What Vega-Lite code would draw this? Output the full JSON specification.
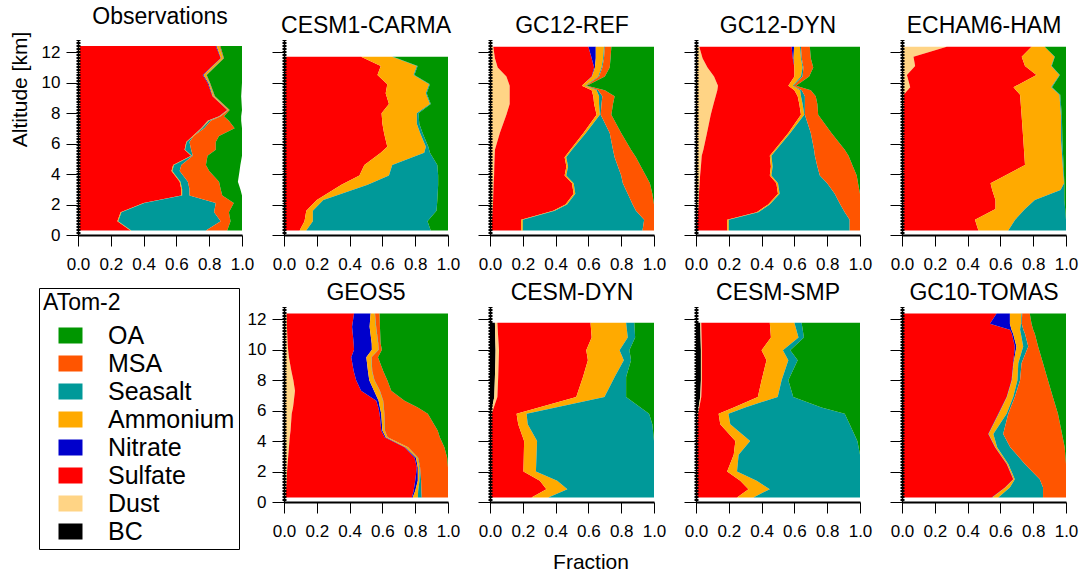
{
"$schema": "https://vega.github.io/schema/vega-lite/v6.json",
"autosize": {"type": "pad"},
"padding": {"left": 9, "top": 6, "right": 5, "bottom": 5},
"background": "white",
"data": {"name": "d"},
"datasets": {
"ord": [{"sp":"BC","o":1},{"sp":"Dust","o":2},{"sp":"Sulfate","o":3},{"sp":"Nitrate","o":4},{"sp":"Ammonium","o":5},{"sp":"Seasalt","o":6},{"sp":"MSA","o":7},{"sp":"OA","o":8}],
"d": [
{"m":"Observations","alt":12.4,"BC":0,"Dust":0.012,"Sulfate":0.828,"Nitrate":0.005,"Ammonium":0.015,"Seasalt":0.002,"MSA":0.006,"OA":0.132},
{"m":"Observations","alt":11.6,"BC":0,"Dust":0.012,"Sulfate":0.858,"Nitrate":0.002,"Ammonium":0.013,"Seasalt":0.002,"MSA":0.003,"OA":0.11},
{"m":"Observations","alt":10.5,"BC":0,"Dust":0.01,"Sulfate":0.75,"Nitrate":0.005,"Ammonium":0.015,"Seasalt":0.002,"MSA":0.003,"OA":0.215},
{"m":"Observations","alt":10.0,"BC":0,"Dust":0.01,"Sulfate":0.78,"Nitrate":0.005,"Ammonium":0.005,"Seasalt":0.002,"MSA":0.003,"OA":0.195},
{"m":"Observations","alt":9.1,"BC":0,"Dust":0.01,"Sulfate":0.81,"Nitrate":0.002,"Ammonium":0.008,"Seasalt":0.002,"MSA":0.003,"OA":0.16},
{"m":"Observations","alt":8.2,"BC":0,"Dust":0.01,"Sulfate":0.9,"Nitrate":0.002,"Ammonium":0.006,"Seasalt":0.002,"MSA":0.005,"OA":0.075},
{"m":"Observations","alt":7.8,"BC":0,"Dust":0.01,"Sulfate":0.85,"Nitrate":0.002,"Ammonium":0.006,"Seasalt":0.002,"MSA":0.02,"OA":0.105},
{"m":"Observations","alt":7.5,"BC":0,"Dust":0.01,"Sulfate":0.78,"Nitrate":0.002,"Ammonium":0.008,"Seasalt":0.01,"MSA":0.11,"OA":0.075},
{"m":"Observations","alt":7.0,"BC":0,"Dust":0.01,"Sulfate":0.74,"Nitrate":0.002,"Ammonium":0.006,"Seasalt":0.012,"MSA":0.185,"OA":0.045},
{"m":"Observations","alt":6.5,"BC":0,"Dust":0.01,"Sulfate":0.69,"Nitrate":0,"Ammonium":0.005,"Seasalt":0,"MSA":0.155,"OA":0.14},
{"m":"Observations","alt":6.1,"BC":0,"Dust":0.01,"Sulfate":0.65,"Nitrate":0,"Ammonium":0.003,"Seasalt":0.017,"MSA":0.16,"OA":0.16},
{"m":"Observations","alt":5.6,"BC":0,"Dust":0.01,"Sulfate":0.64,"Nitrate":0,"Ammonium":0.003,"Seasalt":0.037,"MSA":0.15,"OA":0.16},
{"m":"Observations","alt":5.2,"BC":0,"Dust":0.01,"Sulfate":0.68,"Nitrate":0,"Ammonium":0.005,"Seasalt":0.005,"MSA":0.09,"OA":0.21},
{"m":"Observations","alt":4.6,"BC":0,"Dust":0.01,"Sulfate":0.57,"Nitrate":0,"Ammonium":0.005,"Seasalt":0.045,"MSA":0.15,"OA":0.21},
{"m":"Observations","alt":4.2,"BC":0,"Dust":0.01,"Sulfate":0.56,"Nitrate":0,"Ammonium":0.005,"Seasalt":0.045,"MSA":0.18,"OA":0.185},
{"m":"Observations","alt":3.5,"BC":0,"Dust":0.01,"Sulfate":0.61,"Nitrate":0,"Ammonium":0.005,"Seasalt":0.045,"MSA":0.19,"OA":0.115},
{"m":"Observations","alt":3.0,"BC":0,"Dust":0.01,"Sulfate":0.62,"Nitrate":0,"Ammonium":0.005,"Seasalt":0.045,"MSA":0.19,"OA":0.12},
{"m":"Observations","alt":2.6,"BC":0,"Dust":0.01,"Sulfate":0.62,"Nitrate":0,"Ammonium":0.005,"Seasalt":0.045,"MSA":0.2,"OA":0.12},
{"m":"Observations","alt":2.1,"BC":0,"Dust":0.01,"Sulfate":0.39,"Nitrate":0,"Ammonium":0.005,"Seasalt":0.435,"MSA":0.11,"OA":0.05},
{"m":"Observations","alt":1.5,"BC":0,"Dust":0.01,"Sulfate":0.25,"Nitrate":0,"Ammonium":0.005,"Seasalt":0.565,"MSA":0.09,"OA":0.08},
{"m":"Observations","alt":0.9,"BC":0,"Dust":0.01,"Sulfate":0.23,"Nitrate":0,"Ammonium":0.005,"Seasalt":0.625,"MSA":0.06,"OA":0.07},
{"m":"Observations","alt":0.3,"BC":0,"Dust":0.01,"Sulfate":0.31,"Nitrate":0,"Ammonium":0.005,"Seasalt":0.455,"MSA":0.13,"OA":0.09},
{"m":"CESM1-CARMA","alt":11.7,"BC":0,"Dust":0.003,"Sulfate":0.467,"Nitrate":0,"Ammonium":0.19,"Seasalt":0.005,"MSA":0,"OA":0.335},
{"m":"CESM1-CARMA","alt":11.1,"BC":0,"Dust":0.003,"Sulfate":0.587,"Nitrate":0,"Ammonium":0.22,"Seasalt":0.005,"MSA":0,"OA":0.185},
{"m":"CESM1-CARMA","alt":10.5,"BC":0,"Dust":0.005,"Sulfate":0.565,"Nitrate":0,"Ammonium":0.22,"Seasalt":0.005,"MSA":0,"OA":0.205},
{"m":"CESM1-CARMA","alt":9.9,"BC":0,"Dust":0.008,"Sulfate":0.622,"Nitrate":0,"Ammonium":0.255,"Seasalt":0.005,"MSA":0,"OA":0.11},
{"m":"CESM1-CARMA","alt":9.3,"BC":0,"Dust":0.008,"Sulfate":0.612,"Nitrate":0,"Ammonium":0.245,"Seasalt":0.005,"MSA":0,"OA":0.13},
{"m":"CESM1-CARMA","alt":8.6,"BC":0,"Dust":0.008,"Sulfate":0.632,"Nitrate":0,"Ammonium":0.25,"Seasalt":0.005,"MSA":0,"OA":0.105},
{"m":"CESM1-CARMA","alt":8.0,"BC":0,"Dust":0.008,"Sulfate":0.587,"Nitrate":0,"Ammonium":0.215,"Seasalt":0.01,"MSA":0,"OA":0.18},
{"m":"CESM1-CARMA","alt":7.3,"BC":0,"Dust":0.008,"Sulfate":0.592,"Nitrate":0,"Ammonium":0.21,"Seasalt":0.015,"MSA":0,"OA":0.175},
{"m":"CESM1-CARMA","alt":6.7,"BC":0,"Dust":0.005,"Sulfate":0.605,"Nitrate":0,"Ammonium":0.22,"Seasalt":0.015,"MSA":0,"OA":0.155},
{"m":"CESM1-CARMA","alt":5.8,"BC":0,"Dust":0.003,"Sulfate":0.627,"Nitrate":0,"Ammonium":0.235,"Seasalt":0.015,"MSA":0,"OA":0.12},
{"m":"CESM1-CARMA","alt":5.4,"BC":0,"Dust":0.003,"Sulfate":0.587,"Nitrate":0,"Ammonium":0.265,"Seasalt":0.035,"MSA":0,"OA":0.11},
{"m":"CESM1-CARMA","alt":4.6,"BC":0,"Dust":0.003,"Sulfate":0.487,"Nitrate":0,"Ammonium":0.17,"Seasalt":0.275,"MSA":0,"OA":0.065},
{"m":"CESM1-CARMA","alt":3.9,"BC":0,"Dust":0.003,"Sulfate":0.457,"Nitrate":0,"Ammonium":0.18,"Seasalt":0.3,"MSA":0,"OA":0.06},
{"m":"CESM1-CARMA","alt":3.3,"BC":0,"Dust":0.003,"Sulfate":0.347,"Nitrate":0,"Ammonium":0.16,"Seasalt":0.43,"MSA":0,"OA":0.06},
{"m":"CESM1-CARMA","alt":2.3,"BC":0,"Dust":0.003,"Sulfate":0.197,"Nitrate":0,"Ammonium":0.04,"Seasalt":0.695,"MSA":0,"OA":0.065},
{"m":"CESM1-CARMA","alt":1.6,"BC":0,"Dust":0.003,"Sulfate":0.133,"Nitrate":0,"Ammonium":0.04,"Seasalt":0.754,"MSA":0,"OA":0.07},
{"m":"CESM1-CARMA","alt":0.9,"BC":0,"Dust":0.003,"Sulfate":0.122,"Nitrate":0,"Ammonium":0.051,"Seasalt":0.699,"MSA":0,"OA":0.125},
{"m":"CESM1-CARMA","alt":0.3,"BC":0,"Dust":0.003,"Sulfate":0.092,"Nitrate":0,"Ammonium":0.041,"Seasalt":0.759,"MSA":0,"OA":0.105},
{"m":"GC12-REF","alt":12.35,"BC":0,"Dust":0.02,"Sulfate":0.58,"Nitrate":0.045,"Ammonium":0.05,"Seasalt":0.005,"MSA":0.04,"OA":0.26},
{"m":"GC12-REF","alt":11.6,"BC":0,"Dust":0.03,"Sulfate":0.59,"Nitrate":0.025,"Ammonium":0.045,"Seasalt":0.005,"MSA":0.04,"OA":0.265},
{"m":"GC12-REF","alt":11.0,"BC":0,"Dust":0.047,"Sulfate":0.588,"Nitrate":0.005,"Ammonium":0.04,"Seasalt":0.005,"MSA":0.045,"OA":0.27},
{"m":"GC12-REF","alt":10.4,"BC":0,"Dust":0.1,"Sulfate":0.52,"Nitrate":0.002,"Ammonium":0.038,"Seasalt":0.005,"MSA":0.035,"OA":0.3},
{"m":"GC12-REF","alt":9.8,"BC":0,"Dust":0.12,"Sulfate":0.44,"Nitrate":0,"Ammonium":0.02,"Seasalt":0.005,"MSA":0.005,"OA":0.41},
{"m":"GC12-REF","alt":9.5,"BC":0,"Dust":0.12,"Sulfate":0.5,"Nitrate":0,"Ammonium":0.03,"Seasalt":0.01,"MSA":0.04,"OA":0.3},
{"m":"GC12-REF","alt":9.1,"BC":0,"Dust":0.12,"Sulfate":0.51,"Nitrate":0,"Ammonium":0.035,"Seasalt":0.02,"MSA":0.075,"OA":0.24},
{"m":"GC12-REF","alt":8.6,"BC":0,"Dust":0.12,"Sulfate":0.515,"Nitrate":0,"Ammonium":0.03,"Seasalt":0.015,"MSA":0.07,"OA":0.25},
{"m":"GC12-REF","alt":7.9,"BC":0,"Dust":0.1,"Sulfate":0.55,"Nitrate":0,"Ammonium":0.02,"Seasalt":0.005,"MSA":0.065,"OA":0.26},
{"m":"GC12-REF","alt":6.7,"BC":0,"Dust":0.06,"Sulfate":0.51,"Nitrate":0,"Ammonium":0.015,"Seasalt":0.145,"MSA":0.07,"OA":0.2},
{"m":"GC12-REF","alt":5.6,"BC":0,"Dust":0.03,"Sulfate":0.46,"Nitrate":0,"Ammonium":0.01,"Seasalt":0.25,"MSA":0.11,"OA":0.14},
{"m":"GC12-REF","alt":5.1,"BC":0,"Dust":0.028,"Sulfate":0.427,"Nitrate":0,"Ammonium":0.01,"Seasalt":0.295,"MSA":0.13,"OA":0.11},
{"m":"GC12-REF","alt":4.5,"BC":0,"Dust":0.026,"Sulfate":0.44,"Nitrate":0,"Ammonium":0.01,"Seasalt":0.304,"MSA":0.14,"OA":0.08},
{"m":"GC12-REF","alt":3.9,"BC":0,"Dust":0.025,"Sulfate":0.43,"Nitrate":0,"Ammonium":0.01,"Seasalt":0.335,"MSA":0.15,"OA":0.05},
{"m":"GC12-REF","alt":3.4,"BC":0,"Dust":0.022,"Sulfate":0.478,"Nitrate":0,"Ammonium":0.01,"Seasalt":0.3,"MSA":0.165,"OA":0.025},
{"m":"GC12-REF","alt":2.7,"BC":0,"Dust":0.02,"Sulfate":0.49,"Nitrate":0,"Ammonium":0.01,"Seasalt":0.32,"MSA":0.15,"OA":0.01},
{"m":"GC12-REF","alt":2.0,"BC":0,"Dust":0.018,"Sulfate":0.442,"Nitrate":0,"Ammonium":0.01,"Seasalt":0.4,"MSA":0.13,"OA":0},
{"m":"GC12-REF","alt":1.6,"BC":0,"Dust":0.015,"Sulfate":0.37,"Nitrate":0,"Ammonium":0.01,"Seasalt":0.495,"MSA":0.11,"OA":0},
{"m":"GC12-REF","alt":1.0,"BC":0,"Dust":0.012,"Sulfate":0.178,"Nitrate":0,"Ammonium":0.01,"Seasalt":0.74,"MSA":0.06,"OA":0},
{"m":"GC12-REF","alt":0.3,"BC":0,"Dust":0.01,"Sulfate":0.18,"Nitrate":0,"Ammonium":0.01,"Seasalt":0.73,"MSA":0.07,"OA":0},
{"m":"GC12-DYN","alt":12.35,"BC":0,"Dust":0.02,"Sulfate":0.563,"Nitrate":0.015,"Ammonium":0.036,"Seasalt":0.006,"MSA":0.054,"OA":0.306},
{"m":"GC12-DYN","alt":11.6,"BC":0,"Dust":0.04,"Sulfate":0.55,"Nitrate":0.005,"Ammonium":0.045,"Seasalt":0.005,"MSA":0.055,"OA":0.3},
{"m":"GC12-DYN","alt":11.0,"BC":0,"Dust":0.07,"Sulfate":0.53,"Nitrate":0,"Ammonium":0.05,"Seasalt":0.005,"MSA":0.06,"OA":0.285},
{"m":"GC12-DYN","alt":10.4,"BC":0,"Dust":0.11,"Sulfate":0.49,"Nitrate":0,"Ammonium":0.04,"Seasalt":0.01,"MSA":0.04,"OA":0.31},
{"m":"GC12-DYN","alt":9.8,"BC":0,"Dust":0.134,"Sulfate":0.429,"Nitrate":0,"Ammonium":0.027,"Seasalt":0.005,"MSA":0.015,"OA":0.39},
{"m":"GC12-DYN","alt":9.5,"BC":0,"Dust":0.13,"Sulfate":0.47,"Nitrate":0,"Ammonium":0.035,"Seasalt":0.01,"MSA":0.055,"OA":0.3},
{"m":"GC12-DYN","alt":9.1,"BC":0,"Dust":0.12,"Sulfate":0.5,"Nitrate":0,"Ammonium":0.02,"Seasalt":0.024,"MSA":0.066,"OA":0.27},
{"m":"GC12-DYN","alt":8.6,"BC":0,"Dust":0.107,"Sulfate":0.523,"Nitrate":0,"Ammonium":0.02,"Seasalt":0.014,"MSA":0.076,"OA":0.26},
{"m":"GC12-DYN","alt":7.9,"BC":0,"Dust":0.09,"Sulfate":0.55,"Nitrate":0,"Ammonium":0.02,"Seasalt":0.004,"MSA":0.081,"OA":0.255},
{"m":"GC12-DYN","alt":6.7,"BC":0,"Dust":0.067,"Sulfate":0.496,"Nitrate":0,"Ammonium":0.012,"Seasalt":0.125,"MSA":0.126,"OA":0.174},
{"m":"GC12-DYN","alt":5.6,"BC":0,"Dust":0.045,"Sulfate":0.435,"Nitrate":0,"Ammonium":0.01,"Seasalt":0.23,"MSA":0.187,"OA":0.093},
{"m":"GC12-DYN","alt":5.2,"BC":0,"Dust":0.035,"Sulfate":0.415,"Nitrate":0,"Ammonium":0.01,"Seasalt":0.265,"MSA":0.205,"OA":0.07},
{"m":"GC12-DYN","alt":4.5,"BC":0,"Dust":0.03,"Sulfate":0.427,"Nitrate":0,"Ammonium":0.01,"Seasalt":0.273,"MSA":0.217,"OA":0.043},
{"m":"GC12-DYN","alt":3.9,"BC":0,"Dust":0.025,"Sulfate":0.425,"Nitrate":0,"Ammonium":0.01,"Seasalt":0.295,"MSA":0.225,"OA":0.02},
{"m":"GC12-DYN","alt":3.4,"BC":0,"Dust":0.022,"Sulfate":0.468,"Nitrate":0,"Ammonium":0.01,"Seasalt":0.3,"MSA":0.188,"OA":0.012},
{"m":"GC12-DYN","alt":2.7,"BC":0,"Dust":0.018,"Sulfate":0.482,"Nitrate":0,"Ammonium":0.01,"Seasalt":0.336,"MSA":0.154,"OA":0},
{"m":"GC12-DYN","alt":2.0,"BC":0,"Dust":0.016,"Sulfate":0.424,"Nitrate":0,"Ammonium":0.01,"Seasalt":0.43,"MSA":0.12,"OA":0},
{"m":"GC12-DYN","alt":1.5,"BC":0,"Dust":0.012,"Sulfate":0.358,"Nitrate":0,"Ammonium":0.01,"Seasalt":0.527,"MSA":0.093,"OA":0},
{"m":"GC12-DYN","alt":1.0,"BC":0,"Dust":0.008,"Sulfate":0.182,"Nitrate":0,"Ammonium":0.01,"Seasalt":0.737,"MSA":0.063,"OA":0},
{"m":"GC12-DYN","alt":0.3,"BC":0,"Dust":0.006,"Sulfate":0.184,"Nitrate":0,"Ammonium":0.01,"Seasalt":0.737,"MSA":0.063,"OA":0},
{"m":"ECHAM6-HAM","alt":12.35,"BC":0,"Dust":0.273,"Sulfate":0.517,"Nitrate":0,"Ammonium":0.08,"Seasalt":0,"MSA":0,"OA":0.13},
{"m":"ECHAM6-HAM","alt":11.7,"BC":0,"Dust":0.07,"Sulfate":0.66,"Nitrate":0,"Ammonium":0.2,"Seasalt":0.002,"MSA":0,"OA":0.068},
{"m":"ECHAM6-HAM","alt":11.1,"BC":0,"Dust":0.08,"Sulfate":0.67,"Nitrate":0,"Ammonium":0.16,"Seasalt":0.003,"MSA":0,"OA":0.087},
{"m":"ECHAM6-HAM","alt":10.5,"BC":0,"Dust":0.03,"Sulfate":0.79,"Nitrate":0,"Ammonium":0.14,"Seasalt":0.003,"MSA":0,"OA":0.037},
{"m":"ECHAM6-HAM","alt":9.7,"BC":0,"Dust":0.05,"Sulfate":0.63,"Nitrate":0,"Ammonium":0.23,"Seasalt":0.005,"MSA":0,"OA":0.085},
{"m":"ECHAM6-HAM","alt":9.2,"BC":0,"Dust":0.01,"Sulfate":0.71,"Nitrate":0,"Ammonium":0.24,"Seasalt":0.005,"MSA":0,"OA":0.035},
{"m":"ECHAM6-HAM","alt":7.75,"BC":0,"Dust":0.008,"Sulfate":0.722,"Nitrate":0,"Ammonium":0.24,"Seasalt":0.005,"MSA":0,"OA":0.025},
{"m":"ECHAM6-HAM","alt":6.2,"BC":0,"Dust":0.008,"Sulfate":0.732,"Nitrate":0,"Ammonium":0.23,"Seasalt":0.008,"MSA":0,"OA":0.022},
{"m":"ECHAM6-HAM","alt":4.6,"BC":0,"Dust":0.008,"Sulfate":0.742,"Nitrate":0,"Ammonium":0.23,"Seasalt":0.005,"MSA":0,"OA":0.015},
{"m":"ECHAM6-HAM","alt":3.4,"BC":0,"Dust":0.008,"Sulfate":0.532,"Nitrate":0,"Ammonium":0.448,"Seasalt":0.002,"MSA":0,"OA":0.01},
{"m":"ECHAM6-HAM","alt":2.95,"BC":0,"Dust":0.008,"Sulfate":0.542,"Nitrate":0,"Ammonium":0.417,"Seasalt":0.023,"MSA":0,"OA":0.01},
{"m":"ECHAM6-HAM","alt":2.3,"BC":0,"Dust":0.008,"Sulfate":0.562,"Nitrate":0,"Ammonium":0.24,"Seasalt":0.18,"MSA":0,"OA":0.01},
{"m":"ECHAM6-HAM","alt":1.7,"BC":0,"Dust":0.008,"Sulfate":0.562,"Nitrate":0,"Ammonium":0.18,"Seasalt":0.245,"MSA":0,"OA":0.005},
{"m":"ECHAM6-HAM","alt":1.0,"BC":0,"Dust":0.008,"Sulfate":0.437,"Nitrate":0,"Ammonium":0.245,"Seasalt":0.31,"MSA":0,"OA":0},
{"m":"ECHAM6-HAM","alt":0.3,"BC":0,"Dust":0.008,"Sulfate":0.458,"Nitrate":0,"Ammonium":0.182,"Seasalt":0.352,"MSA":0,"OA":0},
{"m":"GEOS5","alt":12.37,"BC":0,"Dust":0.016,"Sulfate":0.411,"Nitrate":0.101,"Ammonium":0.025,"Seasalt":0.002,"MSA":0.028,"OA":0.417},
{"m":"GEOS5","alt":11.5,"BC":0,"Dust":0.018,"Sulfate":0.397,"Nitrate":0.107,"Ammonium":0.038,"Seasalt":0.002,"MSA":0.023,"OA":0.415},
{"m":"GEOS5","alt":10.4,"BC":0,"Dust":0.022,"Sulfate":0.403,"Nitrate":0.11,"Ammonium":0.038,"Seasalt":0.002,"MSA":0.014,"OA":0.411},
{"m":"GEOS5","alt":10.0,"BC":0,"Dust":0.025,"Sulfate":0.402,"Nitrate":0.109,"Ammonium":0.039,"Seasalt":0.002,"MSA":0.02,"OA":0.403},
{"m":"GEOS5","alt":9.5,"BC":0,"Dust":0.03,"Sulfate":0.38,"Nitrate":0.092,"Ammonium":0.03,"Seasalt":0.002,"MSA":0.039,"OA":0.427},
{"m":"GEOS5","alt":8.6,"BC":0,"Dust":0.045,"Sulfate":0.38,"Nitrate":0.087,"Ammonium":0.024,"Seasalt":0.002,"MSA":0.067,"OA":0.395},
{"m":"GEOS5","alt":8.0,"BC":0,"Dust":0.057,"Sulfate":0.383,"Nitrate":0.08,"Ammonium":0.03,"Seasalt":0.002,"MSA":0.078,"OA":0.37},
{"m":"GEOS5","alt":7.3,"BC":0,"Dust":0.067,"Sulfate":0.403,"Nitrate":0.079,"Ammonium":0.034,"Seasalt":0.002,"MSA":0.069,"OA":0.346},
{"m":"GEOS5","alt":6.65,"BC":0,"Dust":0.06,"Sulfate":0.503,"Nitrate":0.014,"Ammonium":0.026,"Seasalt":0.002,"MSA":0.13,"OA":0.265},
{"m":"GEOS5","alt":6.2,"BC":0,"Dust":0.055,"Sulfate":0.52,"Nitrate":0.01,"Ammonium":0.022,"Seasalt":0.002,"MSA":0.207,"OA":0.184},
{"m":"GEOS5","alt":5.8,"BC":0,"Dust":0.047,"Sulfate":0.536,"Nitrate":0.01,"Ammonium":0.017,"Seasalt":0.002,"MSA":0.265,"OA":0.123},
{"m":"GEOS5","alt":4.7,"BC":0,"Dust":0.04,"Sulfate":0.553,"Nitrate":0.007,"Ammonium":0.013,"Seasalt":0.002,"MSA":0.322,"OA":0.063},
{"m":"GEOS5","alt":4.25,"BC":0,"Dust":0.035,"Sulfate":0.578,"Nitrate":0.007,"Ammonium":0.01,"Seasalt":0.002,"MSA":0.318,"OA":0.05},
{"m":"GEOS5","alt":3.6,"BC":0,"Dust":0.03,"Sulfate":0.705,"Nitrate":0.005,"Ammonium":0.015,"Seasalt":0.002,"MSA":0.221,"OA":0.022},
{"m":"GEOS5","alt":2.9,"BC":0,"Dust":0.025,"Sulfate":0.771,"Nitrate":0.009,"Ammonium":0.01,"Seasalt":0.003,"MSA":0.177,"OA":0.005},
{"m":"GEOS5","alt":2.26,"BC":0,"Dust":0.02,"Sulfate":0.79,"Nitrate":0.006,"Ammonium":0.01,"Seasalt":0.004,"MSA":0.17,"OA":0},
{"m":"GEOS5","alt":1.4,"BC":0,"Dust":0.016,"Sulfate":0.784,"Nitrate":0.016,"Ammonium":0.01,"Seasalt":0.01,"MSA":0.164,"OA":0},
{"m":"GEOS5","alt":0.73,"BC":0,"Dust":0.012,"Sulfate":0.778,"Nitrate":0.01,"Ammonium":0.018,"Seasalt":0.02,"MSA":0.162,"OA":0},
{"m":"GEOS5","alt":0.3,"BC":0,"Dust":0.01,"Sulfate":0.77,"Nitrate":0.005,"Ammonium":0.031,"Seasalt":0.024,"MSA":0.16,"OA":0},
{"m":"CESM-DYN","alt":11.76,"BC":0.03,"Dust":0.015,"Sulfate":0.568,"Nitrate":0,"Ammonium":0.217,"Seasalt":0.05,"MSA":0,"OA":0.12},
{"m":"CESM-DYN","alt":10.8,"BC":0.032,"Dust":0.018,"Sulfate":0.57,"Nitrate":0,"Ammonium":0.22,"Seasalt":0.045,"MSA":0,"OA":0.115},
{"m":"CESM-DYN","alt":9.96,"BC":0.034,"Dust":0.021,"Sulfate":0.532,"Nitrate":0,"Ammonium":0.203,"Seasalt":0.06,"MSA":0,"OA":0.15},
{"m":"CESM-DYN","alt":9.3,"BC":0.033,"Dust":0.02,"Sulfate":0.544,"Nitrate":0,"Ammonium":0.219,"Seasalt":0.044,"MSA":0,"OA":0.14},
{"m":"CESM-DYN","alt":8.2,"BC":0.03,"Dust":0.02,"Sulfate":0.517,"Nitrate":0,"Ammonium":0.193,"Seasalt":0.07,"MSA":0,"OA":0.17},
{"m":"CESM-DYN","alt":6.9,"BC":0.026,"Dust":0.019,"Sulfate":0.481,"Nitrate":0,"Ammonium":0.172,"Seasalt":0.132,"MSA":0,"OA":0.17},
{"m":"CESM-DYN","alt":5.8,"BC":0.005,"Dust":0.005,"Sulfate":0.152,"Nitrate":0,"Ammonium":0.061,"Seasalt":0.747,"MSA":0,"OA":0.03},
{"m":"CESM-DYN","alt":5.1,"BC":0.004,"Dust":0.004,"Sulfate":0.164,"Nitrate":0,"Ammonium":0.058,"Seasalt":0.76,"MSA":0,"OA":0.01},
{"m":"CESM-DYN","alt":4.0,"BC":0.004,"Dust":0.004,"Sulfate":0.2,"Nitrate":0,"Ammonium":0.079,"Seasalt":0.713,"MSA":0,"OA":0},
{"m":"CESM-DYN","alt":2.0,"BC":0.004,"Dust":0.004,"Sulfate":0.196,"Nitrate":0,"Ammonium":0.076,"Seasalt":0.72,"MSA":0,"OA":0},
{"m":"CESM-DYN","alt":1.4,"BC":0.004,"Dust":0.004,"Sulfate":0.296,"Nitrate":0,"Ammonium":0.106,"Seasalt":0.59,"MSA":0,"OA":0},
{"m":"CESM-DYN","alt":0.84,"BC":0.004,"Dust":0.004,"Sulfate":0.336,"Nitrate":0,"Ammonium":0.128,"Seasalt":0.528,"MSA":0,"OA":0},
{"m":"CESM-DYN","alt":0.3,"BC":0.004,"Dust":0.004,"Sulfate":0.245,"Nitrate":0,"Ammonium":0.102,"Seasalt":0.645,"MSA":0,"OA":0},
{"m":"CESM-SMP","alt":11.76,"BC":0.026,"Dust":0.006,"Sulfate":0.418,"Nitrate":0,"Ammonium":0.15,"Seasalt":0.044,"MSA":0,"OA":0.356},
{"m":"CESM-SMP","alt":10.8,"BC":0.028,"Dust":0.006,"Sulfate":0.423,"Nitrate":0,"Ammonium":0.168,"Seasalt":0.033,"MSA":0,"OA":0.342},
{"m":"CESM-SMP","alt":9.96,"BC":0.03,"Dust":0.006,"Sulfate":0.364,"Nitrate":0,"Ammonium":0.13,"Seasalt":0.045,"MSA":0,"OA":0.425},
{"m":"CESM-SMP","alt":9.3,"BC":0.03,"Dust":0.006,"Sulfate":0.394,"Nitrate":0,"Ammonium":0.133,"Seasalt":0.057,"MSA":0,"OA":0.38},
{"m":"CESM-SMP","alt":8.0,"BC":0.03,"Dust":0.006,"Sulfate":0.364,"Nitrate":0,"Ammonium":0.122,"Seasalt":0.041,"MSA":0,"OA":0.437},
{"m":"CESM-SMP","alt":6.9,"BC":0.026,"Dust":0.006,"Sulfate":0.345,"Nitrate":0,"Ammonium":0.121,"Seasalt":0.095,"MSA":0,"OA":0.407},
{"m":"CESM-SMP","alt":6.2,"BC":0.015,"Dust":0.005,"Sulfate":0.21,"Nitrate":0,"Ammonium":0.07,"Seasalt":0.465,"MSA":0,"OA":0.235},
{"m":"CESM-SMP","alt":5.8,"BC":0.008,"Dust":0.004,"Sulfate":0.126,"Nitrate":0,"Ammonium":0.06,"Seasalt":0.709,"MSA":0,"OA":0.093},
{"m":"CESM-SMP","alt":5.1,"BC":0.005,"Dust":0.003,"Sulfate":0.14,"Nitrate":0,"Ammonium":0.061,"Seasalt":0.728,"MSA":0,"OA":0.063},
{"m":"CESM-SMP","alt":4.0,"BC":0.005,"Dust":0.003,"Sulfate":0.232,"Nitrate":0,"Ammonium":0.09,"Seasalt":0.654,"MSA":0,"OA":0.016},
{"m":"CESM-SMP","alt":3.1,"BC":0.005,"Dust":0.003,"Sulfate":0.222,"Nitrate":0,"Ammonium":0.03,"Seasalt":0.74,"MSA":0,"OA":0},
{"m":"CESM-SMP","alt":2.0,"BC":0.005,"Dust":0.003,"Sulfate":0.182,"Nitrate":0,"Ammonium":0.06,"Seasalt":0.75,"MSA":0,"OA":0},
{"m":"CESM-SMP","alt":1.4,"BC":0.005,"Dust":0.003,"Sulfate":0.262,"Nitrate":0,"Ammonium":0.1,"Seasalt":0.63,"MSA":0,"OA":0},
{"m":"CESM-SMP","alt":0.84,"BC":0.005,"Dust":0.003,"Sulfate":0.312,"Nitrate":0,"Ammonium":0.13,"Seasalt":0.55,"MSA":0,"OA":0},
{"m":"CESM-SMP","alt":0.3,"BC":0.005,"Dust":0.003,"Sulfate":0.242,"Nitrate":0,"Ammonium":0.1,"Seasalt":0.65,"MSA":0,"OA":0},
{"m":"GC10-TOMAS","alt":12.37,"BC":0,"Dust":0.005,"Sulfate":0.572,"Nitrate":0.081,"Ammonium":0.071,"Seasalt":0.004,"MSA":0.046,"OA":0.221},
{"m":"GC10-TOMAS","alt":11.7,"BC":0,"Dust":0.005,"Sulfate":0.531,"Nitrate":0.122,"Ammonium":0.067,"Seasalt":0.005,"MSA":0.06,"OA":0.21},
{"m":"GC10-TOMAS","alt":11.3,"BC":0,"Dust":0.005,"Sulfate":0.653,"Nitrate":0.01,"Ammonium":0.052,"Seasalt":0.02,"MSA":0.06,"OA":0.2},
{"m":"GC10-TOMAS","alt":11.05,"BC":0,"Dust":0.005,"Sulfate":0.665,"Nitrate":0.008,"Ammonium":0.047,"Seasalt":0.025,"MSA":0.06,"OA":0.19},
{"m":"GC10-TOMAS","alt":10.2,"BC":0,"Dust":0.005,"Sulfate":0.683,"Nitrate":0.01,"Ammonium":0.041,"Seasalt":0.031,"MSA":0.06,"OA":0.17},
{"m":"GC10-TOMAS","alt":9.1,"BC":0,"Dust":0.005,"Sulfate":0.673,"Nitrate":0.002,"Ammonium":0.029,"Seasalt":0.02,"MSA":0.131,"OA":0.14},
{"m":"GC10-TOMAS","alt":8.0,"BC":0,"Dust":0.005,"Sulfate":0.663,"Nitrate":0.002,"Ammonium":0.034,"Seasalt":0.016,"MSA":0.17,"OA":0.11},
{"m":"GC10-TOMAS","alt":6.9,"BC":0,"Dust":0.005,"Sulfate":0.633,"Nitrate":0.002,"Ammonium":0.038,"Seasalt":0.01,"MSA":0.232,"OA":0.08},
{"m":"GC10-TOMAS","alt":5.8,"BC":0,"Dust":0.005,"Sulfate":0.582,"Nitrate":0.003,"Ammonium":0.048,"Seasalt":0.01,"MSA":0.303,"OA":0.049},
{"m":"GC10-TOMAS","alt":4.46,"BC":0,"Dust":0.005,"Sulfate":0.521,"Nitrate":0.002,"Ammonium":0.029,"Seasalt":0.06,"MSA":0.359,"OA":0.024},
{"m":"GC10-TOMAS","alt":3.6,"BC":0,"Dust":0.005,"Sulfate":0.562,"Nitrate":0.002,"Ammonium":0.011,"Seasalt":0.08,"MSA":0.332,"OA":0.008},
{"m":"GC10-TOMAS","alt":2.5,"BC":0,"Dust":0.005,"Sulfate":0.633,"Nitrate":0.002,"Ammonium":0.008,"Seasalt":0.101,"MSA":0.251,"OA":0},
{"m":"GC10-TOMAS","alt":1.5,"BC":0,"Dust":0.005,"Sulfate":0.673,"Nitrate":0.002,"Ammonium":0.008,"Seasalt":0.152,"MSA":0.16,"OA":0},
{"m":"GC10-TOMAS","alt":0.95,"BC":0,"Dust":0.005,"Sulfate":0.623,"Nitrate":0.002,"Ammonium":0.028,"Seasalt":0.202,"MSA":0.14,"OA":0},
{"m":"GC10-TOMAS","alt":0.3,"BC":0,"Dust":0.005,"Sulfate":0.542,"Nitrate":0.003,"Ammonium":0.037,"Seasalt":0.273,"MSA":0.14,"OA":0}
]
},
"columns": 5,
"spacing": {"row": 72, "column": 42},
"bounds": "flush",
"concat": [
{"width":164,"height":195,"title":{"text":"Observations"},
 "transform":[{"filter":{"field":"m","equal":"Observations"}},{"fold":["BC","Dust","Sulfate","Nitrate","Ammonium","Seasalt","MSA","OA"],"as":["sp","v"]},{"lookup":"sp","from":{"data":{"name":"ord"},"key":"sp","fields":["o"]}}],
 "layer":[
  {"mark":{"type":"area","orient":"horizontal","opacity":1},
   "encoding":{
    "x":{"field":"v","type":"quantitative","stack":"zero","scale":{"domain":[0,1],"nice":false},"axis":{"values":[0,0.2,0.4,0.6,0.8,1],"format":".1f","tickSize":11,"domainWidth":2,"labelPadding":10,"labelFlush":false,"title":null,"zindex":2}},
    "y":{"field":"alt","type":"quantitative","scale":{"domain":[0,12.8],"nice":false,"zero":false},"axis":{"orient":"left","values":[0,2,4,6,8,10,12],"tickSize":12,"domainWidth":1.5,"labelPadding":6,"zindex":2,"title":"Altitude [km]","titleX":-52,"titleY":49,"titleAngle":270,"titleAlign":"center","titleBaseline":"alphabetic"}},
    "color":{"field":"sp","type":"nominal","title":"ATom-2","scale":{"domain":["OA","MSA","Seasalt","Ammonium","Nitrate","Sulfate","Dust","BC"],"range":["#009600","#FF5500","#009999","#FFAA00","#0000CC","#FF0000","#FFD485","#000000"]}},
    "order":{"field":"o","type":"quantitative"}}},
  {"mark":{"type":"rule","opacity":0},"encoding":{"y":{"field":"alt","type":"quantitative","scale":{"domain":[0,12.8],"nice":false,"zero":false},"axis":{"orient":"left","tickCount":128,"tickSize":4,"offset":-2,"labels":false,"domain":false,"title":null,"zindex":3}}}}
 ],
 "resolve":{"axis":{"y":"independent"}}},
{"width":164,"height":195,"title":{"text":"CESM1-CARMA"},
 "transform":[{"filter":{"field":"m","equal":"CESM1-CARMA"}},{"fold":["BC","Dust","Sulfate","Nitrate","Ammonium","Seasalt","MSA","OA"],"as":["sp","v"]},{"lookup":"sp","from":{"data":{"name":"ord"},"key":"sp","fields":["o"]}}],
 "layer":[
  {"mark":{"type":"area","orient":"horizontal","opacity":1},
   "encoding":{
    "x":{"field":"v","type":"quantitative","stack":"zero","scale":{"domain":[0,1],"nice":false},"axis":{"values":[0,0.2,0.4,0.6,0.8,1],"format":".1f","tickSize":11,"domainWidth":2,"labelPadding":10,"labelFlush":false,"title":null,"zindex":2}},
    "y":{"field":"alt","type":"quantitative","scale":{"domain":[0,12.8],"nice":false,"zero":false},"axis":{"orient":"left","values":[0,2,4,6,8,10,12],"tickSize":12,"domainWidth":1.5,"labels":false,"title":null,"zindex":2}},
    "color":{"field":"sp","type":"nominal","title":"ATom-2","scale":{"domain":["OA","MSA","Seasalt","Ammonium","Nitrate","Sulfate","Dust","BC"],"range":["#009600","#FF5500","#009999","#FFAA00","#0000CC","#FF0000","#FFD485","#000000"]}},
    "order":{"field":"o","type":"quantitative"}}},
  {"mark":{"type":"rule","opacity":0},"encoding":{"y":{"field":"alt","type":"quantitative","scale":{"domain":[0,12.8],"nice":false,"zero":false},"axis":{"orient":"left","tickCount":128,"tickSize":4,"offset":-2,"labels":false,"domain":false,"title":null,"zindex":3}}}}
 ],
 "resolve":{"axis":{"y":"independent"}}},
{"width":164,"height":195,"title":{"text":"GC12-REF"},
 "transform":[{"filter":{"field":"m","equal":"GC12-REF"}},{"fold":["BC","Dust","Sulfate","Nitrate","Ammonium","Seasalt","MSA","OA"],"as":["sp","v"]},{"lookup":"sp","from":{"data":{"name":"ord"},"key":"sp","fields":["o"]}}],
 "layer":[
  {"mark":{"type":"area","orient":"horizontal","opacity":1},
   "encoding":{
    "x":{"field":"v","type":"quantitative","stack":"zero","scale":{"domain":[0,1],"nice":false},"axis":{"values":[0,0.2,0.4,0.6,0.8,1],"format":".1f","tickSize":11,"domainWidth":2,"labelPadding":10,"labelFlush":false,"title":null,"zindex":2}},
    "y":{"field":"alt","type":"quantitative","scale":{"domain":[0,12.8],"nice":false,"zero":false},"axis":{"orient":"left","values":[0,2,4,6,8,10,12],"tickSize":12,"domainWidth":1.5,"labels":false,"title":null,"zindex":2}},
    "color":{"field":"sp","type":"nominal","title":"ATom-2","scale":{"domain":["OA","MSA","Seasalt","Ammonium","Nitrate","Sulfate","Dust","BC"],"range":["#009600","#FF5500","#009999","#FFAA00","#0000CC","#FF0000","#FFD485","#000000"]}},
    "order":{"field":"o","type":"quantitative"}}},
  {"mark":{"type":"rule","opacity":0},"encoding":{"y":{"field":"alt","type":"quantitative","scale":{"domain":[0,12.8],"nice":false,"zero":false},"axis":{"orient":"left","tickCount":128,"tickSize":4,"offset":-2,"labels":false,"domain":false,"title":null,"zindex":3}}}}
 ],
 "resolve":{"axis":{"y":"independent"}}},
{"width":164,"height":195,"title":{"text":"GC12-DYN"},
 "transform":[{"filter":{"field":"m","equal":"GC12-DYN"}},{"fold":["BC","Dust","Sulfate","Nitrate","Ammonium","Seasalt","MSA","OA"],"as":["sp","v"]},{"lookup":"sp","from":{"data":{"name":"ord"},"key":"sp","fields":["o"]}}],
 "layer":[
  {"mark":{"type":"area","orient":"horizontal","opacity":1},
   "encoding":{
    "x":{"field":"v","type":"quantitative","stack":"zero","scale":{"domain":[0,1],"nice":false},"axis":{"values":[0,0.2,0.4,0.6,0.8,1],"format":".1f","tickSize":11,"domainWidth":2,"labelPadding":10,"labelFlush":false,"title":null,"zindex":2}},
    "y":{"field":"alt","type":"quantitative","scale":{"domain":[0,12.8],"nice":false,"zero":false},"axis":{"orient":"left","values":[0,2,4,6,8,10,12],"tickSize":12,"domainWidth":1.5,"labels":false,"title":null,"zindex":2}},
    "color":{"field":"sp","type":"nominal","title":"ATom-2","scale":{"domain":["OA","MSA","Seasalt","Ammonium","Nitrate","Sulfate","Dust","BC"],"range":["#009600","#FF5500","#009999","#FFAA00","#0000CC","#FF0000","#FFD485","#000000"]}},
    "order":{"field":"o","type":"quantitative"}}},
  {"mark":{"type":"rule","opacity":0},"encoding":{"y":{"field":"alt","type":"quantitative","scale":{"domain":[0,12.8],"nice":false,"zero":false},"axis":{"orient":"left","tickCount":128,"tickSize":4,"offset":-2,"labels":false,"domain":false,"title":null,"zindex":3}}}}
 ],
 "resolve":{"axis":{"y":"independent"}}},
{"width":164,"height":195,"title":{"text":"ECHAM6-HAM"},
 "transform":[{"filter":{"field":"m","equal":"ECHAM6-HAM"}},{"fold":["BC","Dust","Sulfate","Nitrate","Ammonium","Seasalt","MSA","OA"],"as":["sp","v"]},{"lookup":"sp","from":{"data":{"name":"ord"},"key":"sp","fields":["o"]}}],
 "layer":[
  {"mark":{"type":"area","orient":"horizontal","opacity":1},
   "encoding":{
    "x":{"field":"v","type":"quantitative","stack":"zero","scale":{"domain":[0,1],"nice":false},"axis":{"values":[0,0.2,0.4,0.6,0.8,1],"format":".1f","tickSize":11,"domainWidth":2,"labelPadding":10,"labelFlush":false,"title":null,"zindex":2}},
    "y":{"field":"alt","type":"quantitative","scale":{"domain":[0,12.8],"nice":false,"zero":false},"axis":{"orient":"left","values":[0,2,4,6,8,10,12],"tickSize":12,"domainWidth":1.5,"labels":false,"title":null,"zindex":2}},
    "color":{"field":"sp","type":"nominal","title":"ATom-2","scale":{"domain":["OA","MSA","Seasalt","Ammonium","Nitrate","Sulfate","Dust","BC"],"range":["#009600","#FF5500","#009999","#FFAA00","#0000CC","#FF0000","#FFD485","#000000"]}},
    "order":{"field":"o","type":"quantitative"}}},
  {"mark":{"type":"rule","opacity":0},"encoding":{"y":{"field":"alt","type":"quantitative","scale":{"domain":[0,12.8],"nice":false,"zero":false},"axis":{"orient":"left","tickCount":128,"tickSize":4,"offset":-2,"labels":false,"domain":false,"title":null,"zindex":3}}}}
 ],
 "resolve":{"axis":{"y":"independent"}}},
{"width":164,"height":195,"data":{"values":[{"a":0}]},"mark":{"type":"point","opacity":0},"encoding":{}},
{"width":164,"height":195,"title":{"text":"GEOS5"},
 "transform":[{"filter":{"field":"m","equal":"GEOS5"}},{"fold":["BC","Dust","Sulfate","Nitrate","Ammonium","Seasalt","MSA","OA"],"as":["sp","v"]},{"lookup":"sp","from":{"data":{"name":"ord"},"key":"sp","fields":["o"]}}],
 "layer":[
  {"mark":{"type":"area","orient":"horizontal","opacity":1},
   "encoding":{
    "x":{"field":"v","type":"quantitative","stack":"zero","scale":{"domain":[0,1],"nice":false},"axis":{"values":[0,0.2,0.4,0.6,0.8,1],"format":".1f","tickSize":11,"domainWidth":2,"labelPadding":10,"labelFlush":false,"title":null,"zindex":2}},
    "y":{"field":"alt","type":"quantitative","scale":{"domain":[0,12.8],"nice":false,"zero":false},"axis":{"orient":"left","values":[0,2,4,6,8,10,12],"tickSize":12,"domainWidth":1.5,"labelPadding":6,"title":null,"zindex":2}},
    "color":{"field":"sp","type":"nominal","title":"ATom-2","scale":{"domain":["OA","MSA","Seasalt","Ammonium","Nitrate","Sulfate","Dust","BC"],"range":["#009600","#FF5500","#009999","#FFAA00","#0000CC","#FF0000","#FFD485","#000000"]}},
    "order":{"field":"o","type":"quantitative"}}},
  {"mark":{"type":"rule","opacity":0},"encoding":{"y":{"field":"alt","type":"quantitative","scale":{"domain":[0,12.8],"nice":false,"zero":false},"axis":{"orient":"left","tickCount":128,"tickSize":4,"offset":-2,"labels":false,"domain":false,"title":null,"zindex":3}}}}
 ],
 "resolve":{"axis":{"y":"independent"}}},
{"width":164,"height":195,"title":{"text":"CESM-DYN"},
 "transform":[{"filter":{"field":"m","equal":"CESM-DYN"}},{"fold":["BC","Dust","Sulfate","Nitrate","Ammonium","Seasalt","MSA","OA"],"as":["sp","v"]},{"lookup":"sp","from":{"data":{"name":"ord"},"key":"sp","fields":["o"]}}],
 "layer":[
  {"mark":{"type":"area","orient":"horizontal","opacity":1},
   "encoding":{
    "x":{"field":"v","type":"quantitative","stack":"zero","scale":{"domain":[0,1],"nice":false},"axis":{"values":[0,0.2,0.4,0.6,0.8,1],"format":".1f","tickSize":11,"domainWidth":2,"labelPadding":10,"labelFlush":false,"zindex":2,"title":"Fraction","titleX":100.5,"titleY":66,"titleAlign":"center","titleBaseline":"alphabetic"}},
    "y":{"field":"alt","type":"quantitative","scale":{"domain":[0,12.8],"nice":false,"zero":false},"axis":{"orient":"left","values":[0,2,4,6,8,10,12],"tickSize":12,"domainWidth":1.5,"labels":false,"title":null,"zindex":2}},
    "color":{"field":"sp","type":"nominal","title":"ATom-2","scale":{"domain":["OA","MSA","Seasalt","Ammonium","Nitrate","Sulfate","Dust","BC"],"range":["#009600","#FF5500","#009999","#FFAA00","#0000CC","#FF0000","#FFD485","#000000"]}},
    "order":{"field":"o","type":"quantitative"}}},
  {"mark":{"type":"rule","opacity":0},"encoding":{"y":{"field":"alt","type":"quantitative","scale":{"domain":[0,12.8],"nice":false,"zero":false},"axis":{"orient":"left","tickCount":128,"tickSize":4,"offset":-2,"labels":false,"domain":false,"title":null,"zindex":3}}}}
 ],
 "resolve":{"axis":{"y":"independent"}}},
{"width":164,"height":195,"title":{"text":"CESM-SMP"},
 "transform":[{"filter":{"field":"m","equal":"CESM-SMP"}},{"fold":["BC","Dust","Sulfate","Nitrate","Ammonium","Seasalt","MSA","OA"],"as":["sp","v"]},{"lookup":"sp","from":{"data":{"name":"ord"},"key":"sp","fields":["o"]}}],
 "layer":[
  {"mark":{"type":"area","orient":"horizontal","opacity":1},
   "encoding":{
    "x":{"field":"v","type":"quantitative","stack":"zero","scale":{"domain":[0,1],"nice":false},"axis":{"values":[0,0.2,0.4,0.6,0.8,1],"format":".1f","tickSize":11,"domainWidth":2,"labelPadding":10,"labelFlush":false,"title":null,"zindex":2}},
    "y":{"field":"alt","type":"quantitative","scale":{"domain":[0,12.8],"nice":false,"zero":false},"axis":{"orient":"left","values":[0,2,4,6,8,10,12],"tickSize":12,"domainWidth":1.5,"labels":false,"title":null,"zindex":2}},
    "color":{"field":"sp","type":"nominal","title":"ATom-2","scale":{"domain":["OA","MSA","Seasalt","Ammonium","Nitrate","Sulfate","Dust","BC"],"range":["#009600","#FF5500","#009999","#FFAA00","#0000CC","#FF0000","#FFD485","#000000"]}},
    "order":{"field":"o","type":"quantitative"}}},
  {"mark":{"type":"rule","opacity":0},"encoding":{"y":{"field":"alt","type":"quantitative","scale":{"domain":[0,12.8],"nice":false,"zero":false},"axis":{"orient":"left","tickCount":128,"tickSize":4,"offset":-2,"labels":false,"domain":false,"title":null,"zindex":3}}}}
 ],
 "resolve":{"axis":{"y":"independent"}}},
{"width":164,"height":195,"title":{"text":"GC10-TOMAS"},
 "transform":[{"filter":{"field":"m","equal":"GC10-TOMAS"}},{"fold":["BC","Dust","Sulfate","Nitrate","Ammonium","Seasalt","MSA","OA"],"as":["sp","v"]},{"lookup":"sp","from":{"data":{"name":"ord"},"key":"sp","fields":["o"]}}],
 "layer":[
  {"mark":{"type":"area","orient":"horizontal","opacity":1},
   "encoding":{
    "x":{"field":"v","type":"quantitative","stack":"zero","scale":{"domain":[0,1],"nice":false},"axis":{"values":[0,0.2,0.4,0.6,0.8,1],"format":".1f","tickSize":11,"domainWidth":2,"labelPadding":10,"labelFlush":false,"title":null,"zindex":2}},
    "y":{"field":"alt","type":"quantitative","scale":{"domain":[0,12.8],"nice":false,"zero":false},"axis":{"orient":"left","values":[0,2,4,6,8,10,12],"tickSize":12,"domainWidth":1.5,"labels":false,"title":null,"zindex":2}},
    "color":{"field":"sp","type":"nominal","title":"ATom-2","scale":{"domain":["OA","MSA","Seasalt","Ammonium","Nitrate","Sulfate","Dust","BC"],"range":["#009600","#FF5500","#009999","#FFAA00","#0000CC","#FF0000","#FFD485","#000000"]}},
    "order":{"field":"o","type":"quantitative"}}},
  {"mark":{"type":"rule","opacity":0},"encoding":{"y":{"field":"alt","type":"quantitative","scale":{"domain":[0,12.8],"nice":false,"zero":false},"axis":{"orient":"left","tickCount":128,"tickSize":4,"offset":-2,"labels":false,"domain":false,"title":null,"zindex":3}}}}
 ],
 "resolve":{"axis":{"y":"independent"}}}
],
"config": {
 "view": {"stroke": null},
 "font": "Liberation Sans",
 "axis": {"grid": false, "domainColor": "black", "tickColor": "black", "tickWidth": 1, "labelColor": "black", "labelFont": "Liberation Sans", "labelFontSize": 17, "titleFont": "Liberation Sans", "titleFontSize": 21, "titleFontWeight": "normal", "titleColor": "black", "labelOverlap": false},
 "title": {"font": "Liberation Sans", "fontSize": 23, "fontWeight": "normal", "color": "black", "anchor": "middle", "frame": "group", "baseline": "alphabetic", "offset": 2},
 "legend": {"orient": "none", "legendX": -39, "legendY": 248, "direction": "vertical", "strokeColor": "black", "strokeWidth": 1, "padding": 4, "titleFont": "Liberation Sans", "titleFontSize": 23, "titleFontWeight": "normal", "titleColor": "black", "titlePadding": 8, "labelFont": "Liberation Sans", "labelFontSize": 25, "labelColor": "black", "labelOffset": 40, "labelLimit": 300, "symbolType": "M0.25,-0.667L2.25,-0.667L2.25,0.667L0.25,0.667Z", "symbolSize": 576, "symbolOffset": 0, "symbolStrokeWidth": 0, "symbolOpacity": 1, "rowPadding": 2}
}
}
